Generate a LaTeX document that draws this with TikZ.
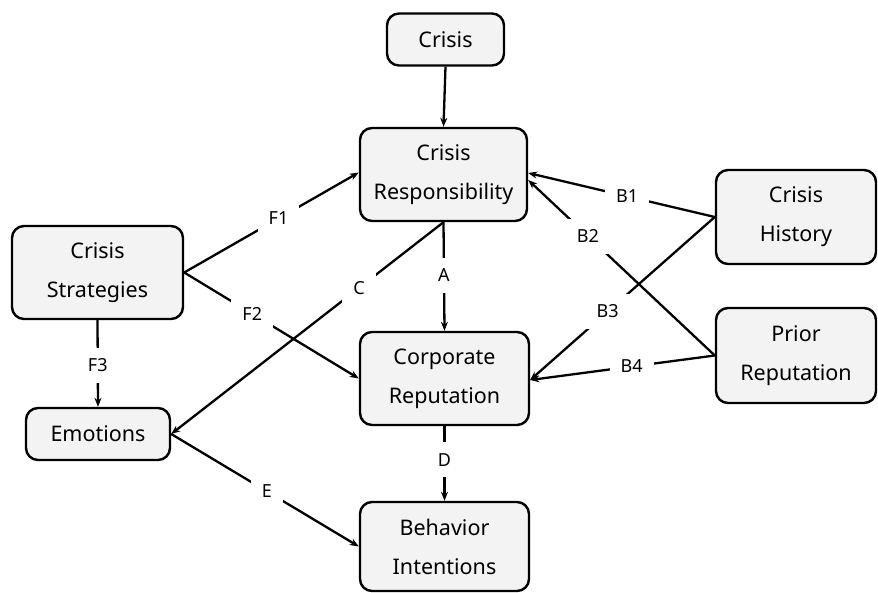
\documentclass[tikz,border=0pt]{standalone}
\usepackage{fontspec}
\setmainfont{Noto Sans}
\usetikzlibrary{arrows.meta}
\definecolor{boxfill}{HTML}{F3F3F3}
\tikzset{
  box/.style={draw=black, line width=2.4pt, fill=boxfill, rounded corners=12pt,
    align=center, inner sep=0pt, font=\fontsize{21.5}{39}\selectfont},
  link/.style={line width=2.3pt, -{Stealth[length=9pt,width=7pt]}},
  tag/.style={fill=white, inner sep=11pt, font=\fontsize{18}{20}\selectfont},
}
\begin{document}
\begin{tikzpicture}[x=1pt,y=-1pt]
\useasboundingbox (0,0) rectangle (878,593);

% boxes
\node[box, minimum width=117pt, minimum height=52pt] (crisis) at (445.5,39.5) {Crisis};
\node[box, minimum width=167pt, minimum height=93pt] (resp)   at (443.5,174.5) {Crisis\\Responsibility};
\node[box, minimum width=171pt, minimum height=93pt] (strat)  at (97.5,272.5) {Crisis\\Strategies};
\node[box, minimum width=144pt, minimum height=52pt] (emo)    at (98,434) {Emotions};
\node[box, minimum width=160pt, minimum height=94pt] (hist)   at (796,217) {Crisis\\History};
\node[box, minimum width=160pt, minimum height=95pt] (prior)  at (796,355.5) {Prior\\Reputation};
\node[box, minimum width=169pt, minimum height=93pt] (corp)   at (444.5,378.5) {Corporate\\Reputation};
\node[box, minimum width=169pt, minimum height=89pt] (behav)  at (444.5,546.5) {Behavior\\Intentions};

% connectors
\draw[link] (crisis.south) -- (resp.north);
\draw[link] (strat.east) -- node[tag, pos=0.54] {F1} ([yshift=2pt]resp.west);
\draw[link] (strat.east) -- node[tag, pos=0.39] {F2} (corp.west);
\draw[link] (strat.south) -- node[tag, pos=0.52] {F3} (emo.north);
\draw[link] (resp.south) -- node[tag, pos=0.31] {C} (emo.east);
\draw[link] (resp.south) -- node[tag, pos=0.49] {A} (corp.north);
\draw[link] (emo.east) -- node[tag, pos=0.51] {E} (behav.west);
\draw[link] (corp.south) -- node[tag, pos=0.45] {D} (behav.north);
\draw[link] (hist.west) -- node[tag, pos=0.47] {B1} ([yshift=1.5pt]resp.east);
\draw[link] (prior.west) -- node[tag, pos=0.68] {B2} ([yshift=-5.5pt]resp.east);
\draw[link] (hist.west) -- node[tag, pos=0.58] {B3} ([yshift=-1.5pt]corp.east);
\draw[link] (prior.west) -- node[tag, pos=0.45] {B4} ([yshift=-1.5pt]corp.east);
\end{tikzpicture}
\end{document}
